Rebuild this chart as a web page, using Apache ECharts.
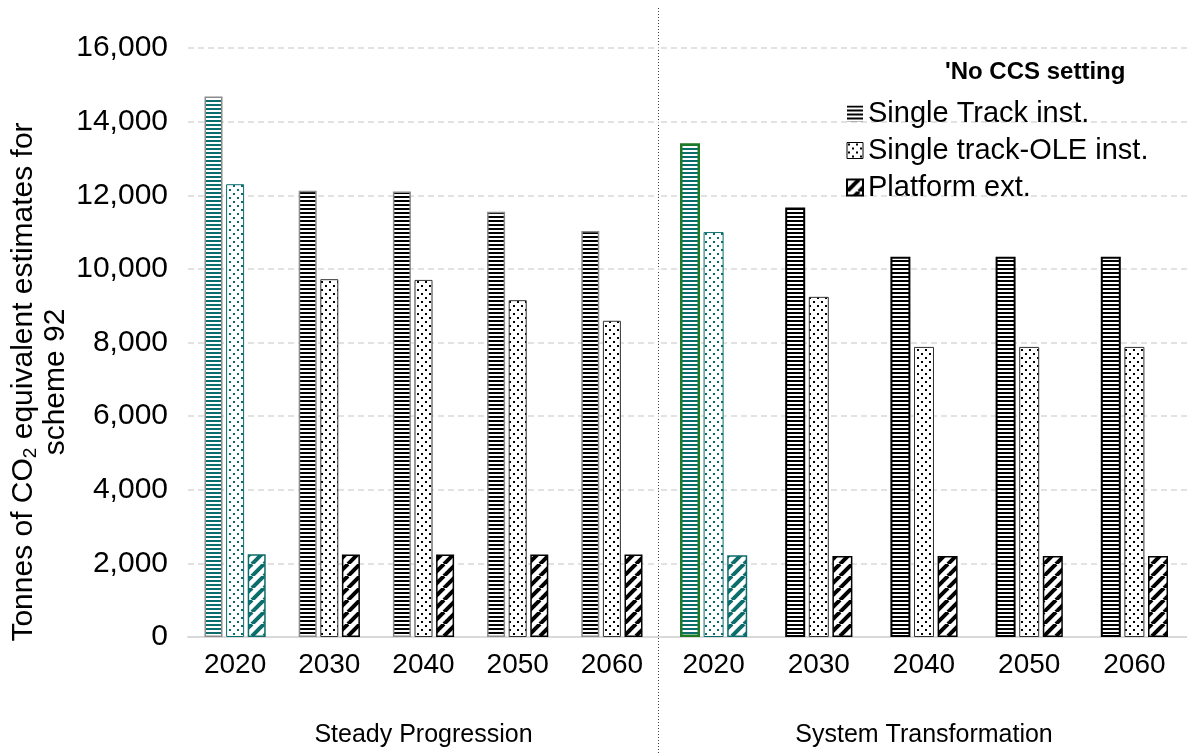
<!DOCTYPE html>
<html><head><meta charset="utf-8">
<script src="https://cdn.jsdelivr.net/npm/echarts@6/dist/echarts.min.js"></script>
<style>html,body{margin:0;padding:0;background:#fff}#c{width:1187px;height:754px}</style>
</head><body><div id="c"></div>
<script>
// ---- data ----
const years = ['2020', '2030', '2040', '2050', '2060'];
const groupNames = ['Steady Progression', 'System Transformation'];
const seriesNames = ['Single Track inst.', 'Single track-OLE inst.', 'Platform ext.'];
const legendTitle = "'No CCS setting";
const spSingleTrack = [14680, 12120, 12100, 11550, 11030];
const spSingleOLE   = [12300, 9720, 9700, 9150, 8590];
const spPlatform    = [2250, 2240, 2240, 2240, 2240];
const stSingleTrack = [13410, 11670, 10330, 10330, 10330];
const stSingleOLE   = [11000, 9240, 7880, 7880, 7880];
const stPlatform    = [2220, 2200, 2200, 2200, 2200];
const yMin = 0, yMax = 16000, yStep = 2000;

// ---- styling ----
const FONT = '"Liberation Sans", Arial, sans-serif';
const TEAL = '#0c6d6d';
const GREEN = '#1f7a24';

function stripes(fg) {
  const c = document.createElement('canvas'); c.width = 4; c.height = 4;
  const g = c.getContext('2d');
  g.fillStyle = '#fff'; g.fillRect(0, 0, 4, 4);
  g.fillStyle = fg; g.fillRect(0, 0, 4, 2);
  return { image: c, repeat: 'repeat' };
}
function dots(fg) {
  const c = document.createElement('canvas'); c.width = 8; c.height = 8;
  const g = c.getContext('2d');
  g.fillStyle = '#fff'; g.fillRect(0, 0, 8, 8);
  g.fillStyle = fg; g.fillRect(1, 1, 2, 2); g.fillRect(5, 5, 2, 2);
  return { image: c, repeat: 'repeat' };
}
function diag(fg) {
  const c = document.createElement('canvas'); c.width = 12; c.height = 12;
  const g = c.getContext('2d');
  g.fillStyle = '#fff'; g.fillRect(0, 0, 12, 12);
  g.strokeStyle = fg; g.lineWidth = 4;
  for (const k of [-12, 0, 12]) { g.beginPath(); g.moveTo(k, 12); g.lineTo(k + 12, 0); g.stroke(); }
  return { image: c, repeat: 'repeat' };
}

function withFirst(values, style) {
  return values.map((v, i) => i === 0 ? { value: v, itemStyle: style } : v);
}

function makeSeries(gi, vals, cfg) {
  const bw = gi === 0 ? 18 : 20;
  const gap = gi === 0 ? '20%' : '18%';
  return [
    { name: seriesNames[0], type: 'bar', xAxisIndex: gi, yAxisIndex: gi, barWidth: bw, barGap: gap,
      itemStyle: { color: stripes('#000'), borderColor: cfg.stBorder, borderWidth: cfg.stBW },
      data: withFirst(vals[0], { color: stripes(TEAL), borderColor: cfg.firstBorder, borderWidth: cfg.firstBW }) },
    { name: seriesNames[1], type: 'bar', xAxisIndex: gi, yAxisIndex: gi, barWidth: bw, barGap: gap,
      itemStyle: { color: dots('#000'), borderColor: '#333', borderWidth: 1 },
      data: withFirst(vals[1], { color: dots(TEAL), borderColor: TEAL, borderWidth: 1 }) },
    { name: seriesNames[2], type: 'bar', xAxisIndex: gi, yAxisIndex: gi, barWidth: bw, barGap: gap,
      itemStyle: { color: diag('#000'), borderColor: '#000', borderWidth: 1.5 },
      data: withFirst(vals[2], { color: diag(TEAL), borderColor: TEAL, borderWidth: 1.5 }) }
  ];
}

const xAxisCommon = (gi) => ({
  type: 'category', gridIndex: gi, data: years,
  axisLine: { show: true, lineStyle: { color: '#d9d9d9', width: 2 } },
  axisTick: { show: false },
  axisLabel: { fontSize: 28, color: '#000', fontFamily: FONT, margin: 14 },
  name: groupNames[gi], nameLocation: 'middle', nameGap: 86,
  nameTextStyle: { fontSize: 25, color: '#000', fontFamily: FONT }
});
const yAxisCommon = (gi) => ({
  type: 'value', gridIndex: gi, min: yMin, max: yMax, interval: yStep,
  axisLine: { show: false }, axisTick: { show: false },
  axisLabel: { show: gi === 0, fontSize: 30, color: '#000', fontFamily: FONT, margin: 20,
    formatter: v => v.toLocaleString('en-US') },
  splitLine: { show: true, lineStyle: { color: '#d9d9d9', width: 1.5, type: [6, 4] } }
});

const chart = echarts.init(document.getElementById('c'), null, { renderer: 'canvas' });
chart.setOption({
  animation: false,
  backgroundColor: '#fff',
  textStyle: { fontFamily: FONT },
  title: { text: legendTitle, left: 945, top: 60, padding: 0,
    textStyle: { fontSize: 24, fontWeight: 'bold', color: '#000', fontFamily: FONT } },
  legend: { orient: 'vertical', left: 841, top: 94, itemWidth: 16, itemHeight: 16, itemGap: 8,
    icon: 'rect',
    data: [
      { name: seriesNames[0], itemStyle: { borderWidth: 0 } },
      { name: seriesNames[1], itemStyle: { borderColor: '#000', borderWidth: 1 } },
      { name: seriesNames[2] }
    ],
    textStyle: { fontSize: 29, color: '#000', fontFamily: FONT } },
  grid: [
    { left: 188, right: 1187 - 659, top: 48, bottom: 117 },
    { left: 661, right: -2, top: 48, bottom: 117 }
  ],
  xAxis: [xAxisCommon(0), xAxisCommon(1)],
  yAxis: [yAxisCommon(0), yAxisCommon(1)],
  series: [
    ...makeSeries(0, [spSingleTrack, spSingleOLE, spPlatform],
      { stBorder: '#8c8c8c', stBW: 1.5, firstBorder: '#8c8c8c', firstBW: 1.5 }),
    ...makeSeries(1, [stSingleTrack, stSingleOLE, stPlatform],
      { stBorder: '#000', stBW: 2, firstBorder: GREEN, firstBW: 2.5 })
  ],
  graphic: [
    { type: 'line', silent: true, shape: { x1: 658.5, y1: 8, x2: 658.5, y2: 754 },
      style: { stroke: '#444', lineWidth: 1, lineDash: [1, 2] } },
    { type: 'text', silent: true, x: 40, y: 382, rotation: Math.PI / 2,
      style: {
        text: '{a|Tonnes of CO}{s|2}{a| equivalent estimates for}\n{a|scheme 92}',
        align: 'center', verticalAlign: 'middle',
        rich: {
          a: { fontSize: 30, lineHeight: 32, fill: '#000', fontFamily: FONT },
          s: { fontSize: 19, lineHeight: 12, verticalAlign: 'bottom', fill: '#000', fontFamily: FONT }
        }
      } }
  ]
});
</script>
</body></html>
